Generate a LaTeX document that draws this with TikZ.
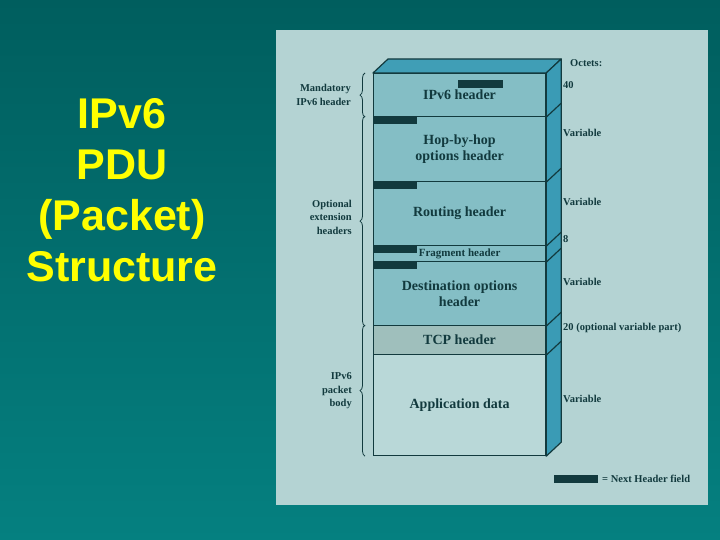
\documentclass[tikz,border=0pt]{standalone}
\usepackage{fontspec}
\setmainfont{Liberation Serif}
\newfontfamily\titlefont{Liberation Sans}
\usetikzlibrary{decorations.pathreplacing}

\definecolor{bgtop}{HTML}{005E5E}
\definecolor{bgbot}{HTML}{058080}
\definecolor{panel}{HTML}{B4D3D3}
\definecolor{hdr}{HTML}{84BEC5}
\definecolor{tcpfill}{HTML}{9FBFBC}
\definecolor{appfill}{HTML}{B9D8D8}
\definecolor{sidefill}{HTML}{3A9BB5}
\definecolor{topfill}{HTML}{409EB6}
\definecolor{ink}{HTML}{123A3E}
\definecolor{titleyellow}{HTML}{FFFF00}

\begin{document}
\begin{tikzpicture} [
            x=1pt,
            y=-1pt,
            row/.style = {draw=ink, line width=1.2pt, fill=hdr, minimum width=172pt,
                inner sep=0pt, anchor=north west, text=ink, align=center,
                font=\bfseries\fontsize{14}{16.5}\selectfont},
            nh bar/.style = {fill=ink},
            face/.style = {draw=ink, line width=1.2pt, fill=sidefill, line join=round},
            brace/.style = {decorate, decoration={brace, amplitude=5pt}, draw=ink, thick},
            side label/.style = {font=\bfseries\fontsize{10.5}{13.5}\selectfont, text=ink,
                align=right, anchor=east, inner sep=0pt},
            octets/.style = {font=\bfseries\fontsize{10.5}{12}\selectfont, text=ink,
                anchor=west, inner sep=0pt},
            title/.style = {font=\titlefont\bfseries\fontsize{43}{51}\selectfont,
                text=titleyellow, align=center, inner sep=0pt}
        ]
        \useasboundingbox (0,0) rectangle (720,540);
        % slide background and the light panel
        \shade[top color=bgtop, bottom color=bgbot] (0,0) rectangle (720,540);
        \fill[panel] (276,30) rectangle (708,505);
        \node[title] (heading) at (122,190) {IPv6\\PDU\\(Packet)\\Structure};
        % First we draw the rows of the packet
        \foreach \name/\top/\hgt/\col/\txt in {
                ipv6/73/43/hdr/{IPv6 header},
                hop/116/65/hdr/{Hop-by-hop\\options header},
                routing/181/64/hdr/{Routing header},
                frag/245/16/hdr/{\fontsize{11}{12}\selectfont Fragment header},
                dest/261/64/hdr/{Destination options\\header},
                tcp/325/29/tcpfill/{TCP header},
                appl/354/101/appfill/{Application data}}
            \node[row, fill=\col, minimum height=\hgt pt] (\name) at (373,\top) {\txt};
        % top and side faces of the block
        \draw[face, fill=topfill] (ipv6.north west) -- ++(15,-14)
            -- ([shift={(15,-14)}]ipv6.north east) -- (ipv6.north east) -- cycle;
        \draw[face] (ipv6.north east) -- ++(15,-14)
            -- ([shift={(15,-14)}]appl.south east) -- (appl.south east) -- cycle;
        \foreach \name in {ipv6, hop, routing, frag, dest, tcp}
            \draw[ink, line width=1.2pt] (\name.south east) -- ++(15,-14);
        % Next Header fields
        \fill[nh bar] ([shift={(85,7)}]ipv6.north west) rectangle ++(45,8);
        \foreach \name in {hop, routing, frag, dest}
            \fill[nh bar] (\name.north west) rectangle ++(44,8);
        % braces and their labels
        \draw[brace] ([xshift=-8pt]ipv6.south west) -- ([xshift=-8pt]ipv6.north west);
        \draw[brace] ([xshift=-8pt]dest.south west) -- ([xshift=-8pt]hop.north west);
        \draw[brace] ([xshift=-8pt]appl.south west) -- ([xshift=-8pt]tcp.north west);
        \node[side label] (mandatory) at (351,95) {Mandatory\\IPv6 header};
        \node[side label] (optional) at (352,217) {Optional\\extension\\headers};
        \node[side label] (body) at (352,391) {IPv6\\packet\\body};
        % octet counts
        \node[octets] (octets) at (570,63) {Octets:};
        \foreach \y/\txt in {
                85/40,
                133/Variable,
                202/Variable,
                239/8,
                282/Variable,
                328/{20 (optional variable part)},
                399/Variable}
            \node[octets] (oct-\y) at (563,\y) {\txt};
        % legend
        \fill[nh bar] (554,475) rectangle (598,483);
        \node[octets] (legend) at (602,479) {= Next Header field};
    \end{tikzpicture}
\end{document}
